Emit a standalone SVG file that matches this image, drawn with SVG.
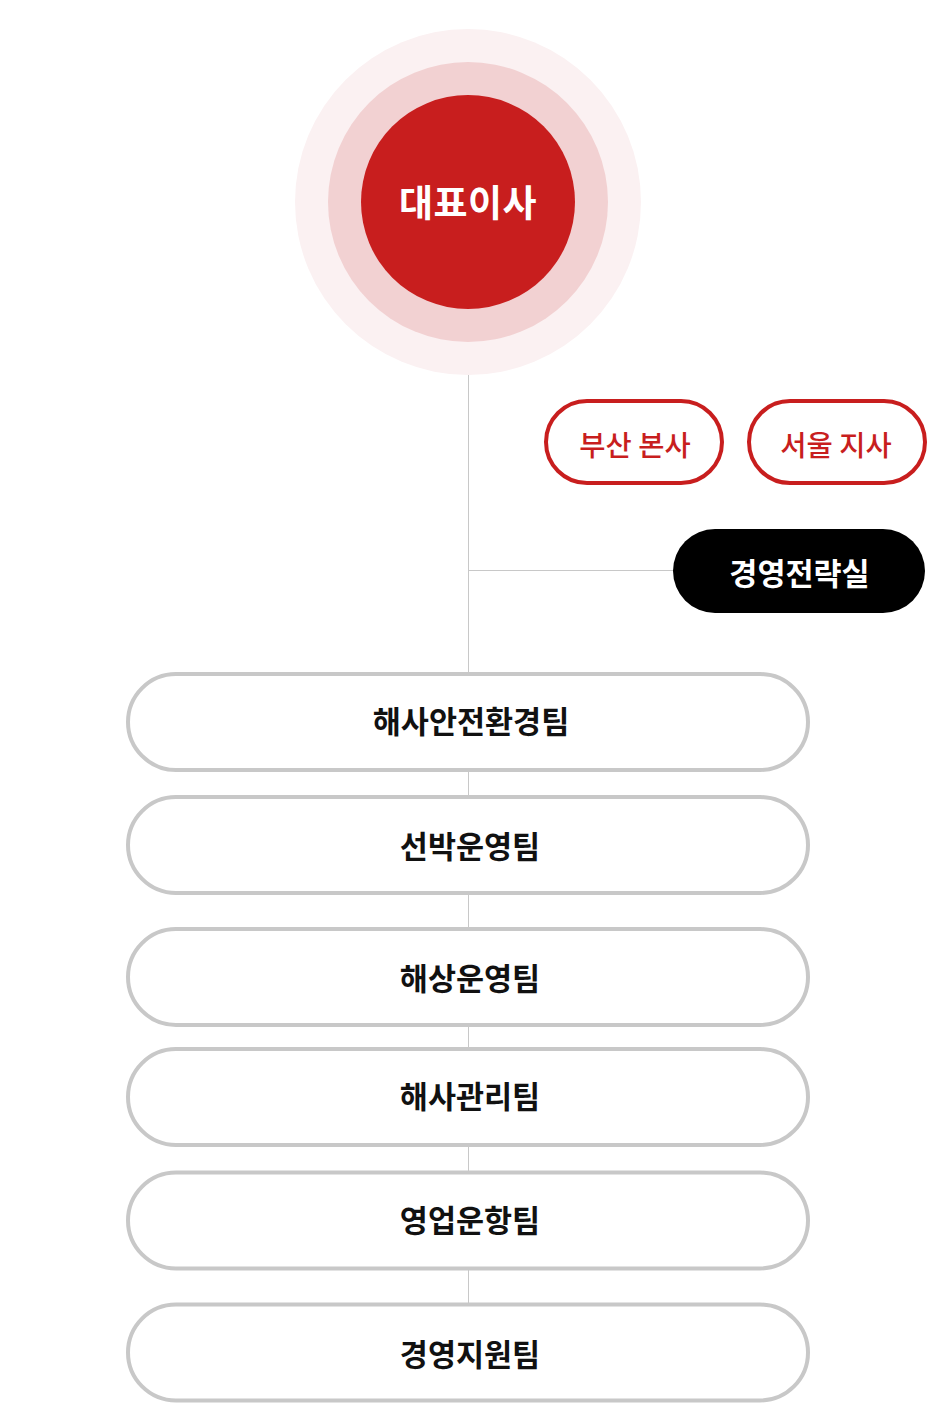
<svg xmlns="http://www.w3.org/2000/svg" width="940" height="1425" viewBox="0 0 940 1425">
<style>
text{font-family:"Noto Sans CJK KR","Noto Sans",sans-serif;text-anchor:middle;dominant-baseline:central}
.team rect{fill:#fff;stroke:#c8c8c8;stroke-width:4}
.team text{font-size:30.5px;font-weight:600;fill:#111}
.branch rect{fill:#fff;stroke:#c81e1e;stroke-width:4}
.branch text{font-size:28.5px;font-weight:500;fill:#c81e1e}
.conn line{stroke:#c8c8c8;stroke-width:1}
</style>
<rect width="940" height="1425" fill="#fff"/>
<g id="connectors" class="conn">
<line x1="468.5" y1="375" x2="468.5" y2="1303"/>
<line x1="468.5" y1="570.5" x2="675" y2="570.5"/>
</g>
<g id="ceo">
<circle cx="468" cy="202" r="173" fill="#fbf1f2"/>
<circle cx="468" cy="202" r="140" fill="#f2d1d2"/>
<circle cx="468" cy="202" r="107" fill="#c81e1e"/>
<text x="468" y="201" font-size="37" font-weight="700" fill="#fff" letter-spacing="0.5">대표이사</text>
</g>
<g id="busan" class="branch">
<rect x="546" y="401" width="176" height="82" rx="41"/>
<text x="635" y="443">부산 본사</text>
</g>
<g id="seoul" class="branch">
<rect x="749" y="401" width="176" height="82" rx="41"/>
<text x="836" y="443">서울 지사</text>
</g>
<g id="strategy">
<rect x="673" y="529" width="252" height="84" rx="42" fill="#000"/>
<text x="799.5" y="572" font-size="30.5" font-weight="600" fill="#fff">경영전략실</text>
</g>
<g id="team1" class="team">
<rect x="128" y="674" width="680" height="96" rx="48"/>
<text x="471" y="720">해사안전환경팀</text>
</g>
<g id="team2" class="team">
<rect x="128" y="797" width="680" height="96" rx="48"/>
<text x="470" y="845">선박운영팀</text>
</g>
<g id="team3" class="team">
<rect x="128" y="929" width="680" height="96" rx="48"/>
<text x="470" y="977">해상운영팀</text>
</g>
<g id="team4" class="team">
<rect x="128" y="1049" width="680" height="96" rx="48"/>
<text x="470" y="1095">해사관리팀</text>
</g>
<g id="team5" class="team">
<rect x="128" y="1172.5" width="680" height="96" rx="48"/>
<text x="470" y="1219">영업운항팀</text>
</g>
<g id="team6" class="team">
<rect x="128" y="1304.5" width="680" height="96" rx="48"/>
<text x="470" y="1353">경영지원팀</text>
</g>
</svg>
